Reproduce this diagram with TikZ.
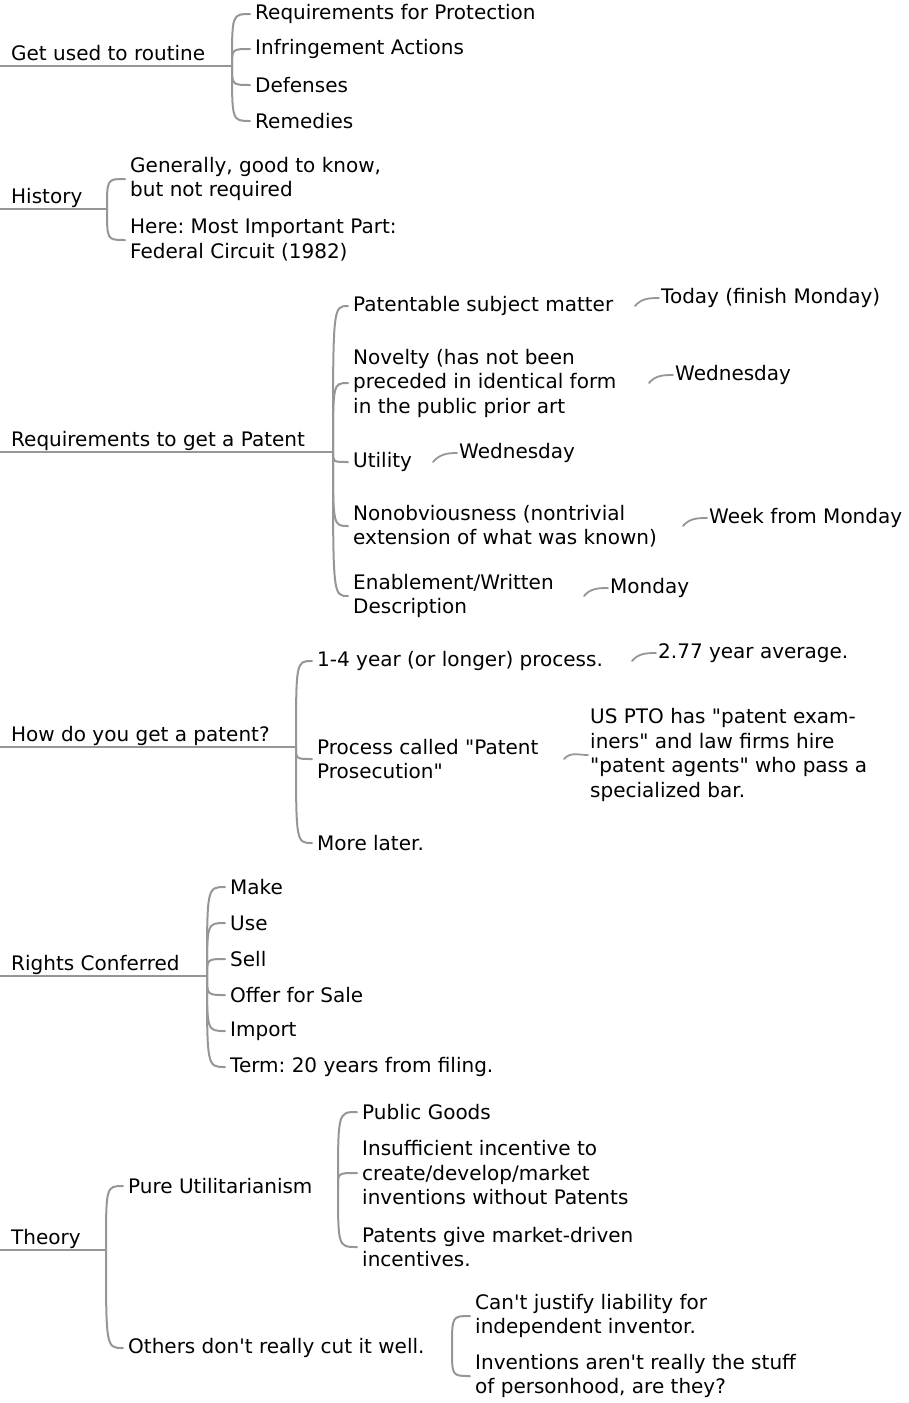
\documentclass[tikz,border=0pt]{standalone}
\usepackage{fontspec}
\usepackage{tikz}
\newfontfamily\mapfont{DejaVu Sans}
\definecolor{linegray}{RGB}{150,150,150}
\frenchspacing

\tikzset{
  every node/.style={font=\mapfont\fontsize{20}{24.5}\selectfont, text=black},
  branch/.style={draw=linegray, line width=2pt, line cap=round},
  brace/.style={branch, to path={.. controls (\tikztostart |- \tikztotarget)
      and (\tikztostart |- \tikztotarget) .. (\tikztotarget)}},
  twig/.style={branch, line width=1.8pt},
  root/.style={anchor=south west, inner xsep=11pt, inner ysep=0pt, text depth=5pt},
  topic/.style={anchor=west, inner xsep=5pt, inner ysep=0pt, align=left},
  note/.style={anchor=west, inner xsep=2pt, inner ysep=0pt, align=left}
}

\begin{document}
\begin{tikzpicture}[x=1pt, y=-1pt]
  \useasboundingbox (0,0) rectangle (909,1403);

  % Get used to routine
  \node[root] (grt) at (0,66) {Get used to routine};
  \coordinate (grt-b) at (232,66);
  \node[topic] (grt-1) at (250,14)  {Requirements for Protection};
  \node[topic] (grt-2) at (250,49)  {Infringement Actions};
  \node[topic] (grt-3) at (250,85)  {Defenses};
  \node[topic] (grt-4) at (250,121) {Remedies};
  \draw[branch] (grt.south west) -- (grt-b);
  \path (grt-b) edge[brace] (grt-1.west) edge[brace] (grt-2.west)
                edge[brace] (grt-3.west) edge[brace] (grt-4.west);

  % History
  \node[root] (his) at (0,209) {History};
  \coordinate (his-b) at (107,209);
  \node[topic] (his-1) at (125,179) {Generally, good to know,\\but not required};
  \node[topic] (his-2) at (125,240) {Here: Most Important Part:\\Federal Circuit (1982)};
  \draw[branch] (his.south west) -- (his-b);
  \path (his-b) edge[brace] (his-1.west) edge[brace] (his-2.west);

  % Requirements to get a Patent
  \node[root] (req) at (0,452) {Requirements to get a Patent};
  \coordinate (req-b) at (333,452);
  \node[topic] (pat) at (348,306) {Patentable subject matter};
  \node[topic] (nov) at (348,383) {Novelty (has not been\\preceded in identical form\\in the public prior art};
  \node[topic] (uti) at (348,462) {Utility};
  \node[topic] (non) at (348,526) {Nonobviousness (nontrivial\\extension of what was known)};
  \node[topic] (ena) at (348,596) {Enablement/Written\\Description};
  \draw[branch] (req.south west) -- (req-b);
  \path (req-b) edge[brace] (pat.west) edge[brace] (nov.west) edge[brace] (uti.west)
                edge[brace] (non.west) edge[brace] (ena.west);

  \node[note] (tod)  at (659,298) {Today (finish Monday)};
  \node[note] (wed1) at (673,375) {Wednesday};
  \node[note] (wed2) at (457,453) {Wednesday};
  \node[note] (wfm)  at (707,518) {Week from Monday};
  \node[note] (mon)  at (608,588) {Monday};
  \draw[twig] ([xshift=-24pt]pat.east -| tod.west) to[out=50,in=180] (tod.west);
  \draw[twig] ([xshift=-24pt]nov.east -| wed1.west) to[out=50,in=180] (wed1.west);
  \draw[twig] ([xshift=-24pt]uti.east -| wed2.west) to[out=50,in=180] (wed2.west);
  \draw[twig] ([xshift=-24pt]non.east -| wfm.west) to[out=50,in=180] (wfm.west);
  \draw[twig] ([xshift=-24pt]ena.east -| mon.west) to[out=50,in=180] (mon.west);

  % How do you get a patent?
  \node[root] (how) at (0,747) {How do you get a patent?};
  \coordinate (how-b) at (296,747);
  \node[topic] (yrs) at (312,661) {1-4 year (or longer) process.};
  \node[topic] (pro) at (312,759) {Process called "Patent\\Prosecution"};
  \node[topic] (mor) at (312,843) {More later.};
  \draw[branch] (how.south west) -- (how-b);
  \path (how-b) edge[brace] (yrs.west) edge[brace] (pro.west) edge[brace] (mor.west);

  \node[note] (avg) at (656,653) {2.77 year average.};
  \node[note] (pto) at (588,755) {US PTO has "patent exam-\\iners" and law firms hire\\"patent agents" who pass a\\specialized bar.};
  \draw[twig] ([xshift=-24pt]yrs.east -| avg.west) to[out=50,in=180] (avg.west);
  \draw[twig] ([xshift=-24pt]pro.east -| pto.west) to[out=50,in=180] (pto.west);

  % Rights Conferred
  \node[root] (rig) at (0,976) {Rights Conferred};
  \coordinate (rig-b) at (207,976);
  \node[topic] (rig-1) at (225,887)  {Make};
  \node[topic] (rig-2) at (225,923)  {Use};
  \node[topic] (rig-3) at (225,959)  {Sell};
  \node[topic] (rig-4) at (225,995)  {Offer for Sale};
  \node[topic] (rig-5) at (225,1031) {Import};
  \node[topic] (rig-6) at (225,1067) {Term: 20 years from filing.};
  \draw[branch] (rig.south west) -- (rig-b);
  \path (rig-b) edge[brace] (rig-1.west) edge[brace] (rig-2.west) edge[brace] (rig-3.west)
                edge[brace] (rig-4.west) edge[brace] (rig-5.west) edge[brace] (rig-6.west);

  % Theory
  \node[root] (the) at (0,1250) {Theory};
  \coordinate (the-b) at (106,1250);
  \node[topic] (pur) at (123,1186) {Pure Utilitarianism};
  \node[topic] (oth) at (123,1348) {Others don't really cut it well.};
  \draw[branch] (the.south west) -- (the-b);
  \path (the-b) edge[brace] (pur.west) edge[brace] (oth.west);

  \coordinate (pur-b) at (338,1186);
  \node[topic] (pub) at (357,1112) {Public Goods};
  \node[topic] (ins) at (357,1173) {Insufficient incentive to\\create/develop/market\\inventions without Patents};
  \node[topic] (giv) at (357,1247) {Patents give market-driven\\incentives.};
  \path (pur-b) edge[brace] (pub.west) edge[brace] (ins.west) edge[brace] (giv.west);

  \coordinate (oth-b) at (452,1348);
  \node[topic] (cnt) at (470,1316) {Can't justify liability for\\independent inventor.};
  \node[topic] (inv) at (470,1376) {Inventions aren't really the stuff\\of personhood, are they?};
  \path (oth-b) edge[brace] (cnt.west) edge[brace] (inv.west);
\end{tikzpicture}
\end{document}
